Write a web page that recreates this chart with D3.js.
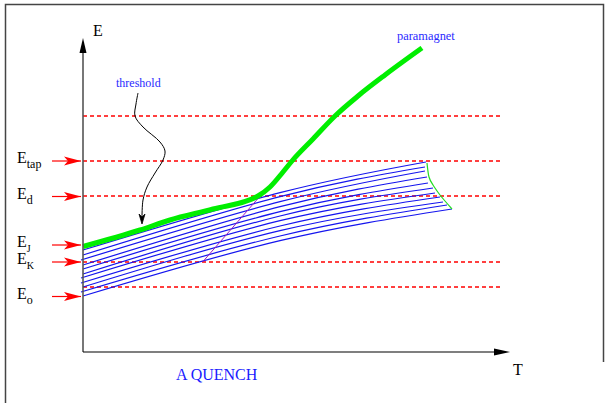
<!DOCTYPE html>
<html>
<head>
<meta charset="utf-8">
<script src="https://cdn.jsdelivr.net/npm/d3@7"></script>
<style>
  body { margin: 0; background: #fff; }
  text { font-family: "Liberation Serif", "Times New Roman", serif; }
</style>
</head>
<body>
<div id="chart"></div>
<script>
// schematic values (T and E in arbitrary units)
var levelNames = ["tap", "d", "J", "K", "o"];
var levelE = [191, 155.5, 107, 90, 55.5];
var dashedE = [236, 191, 155.5, 90.5, 65.3];

var thresholdT = [0, 57, 87, 130, 175, 187, 200, 209, 230, 252, 275, 302, 339];
var thresholdE = [105.5, 122, 132, 143, 156, 165, 180, 191, 213, 236, 256, 277, 304];

// valleys: start, middle, end of each blue line
var valleyStartT = [0, 0, -2, 0, 0, 0, -2, -2, 0, -2, 0];
var valleyStartE = [102, 97, 92, 87, 83, 78, 74, 69, 65, 60, 56];
var valleyMidT = 197;
var valleyMidE = [159.3, 155.3, 150.3, 145.3, 140.3, 136, 131.3, 126, 121.3, 116, 111.3];
var valleyEndT = [343, 342, 342, 344, 345, 350, 352, 357, 360, 364, 369];
var valleyEndE = [190, 185, 181, 175, 169, 164, 159, 155, 150, 147, 143];

var edgeT = [344, 346, 350, 357, 369];
var edgeE = [189, 175, 167, 157, 143];

var quenchT = [120, 178];
var quenchE = [90.5, 157];

var pointerT = [55, 53, 52, 60, 77, 82, 80, 72, 64, 60, 59, 59];
var pointerE = [259, 248, 236, 225, 210, 201, 192, 179, 165, 152, 135, 128];

var width = 605, height = 403;

var svg = d3.select("#chart").append("svg")
    .attr("width", width)
    .attr("height", height);

var x = d3.scaleLinear().domain([0, 427]).range([83, 510]);
var y = d3.scaleLinear().domain([0, 314]).range([352, 38]);

var defs = svg.append("defs");
defs.append("marker")
    .attr("id", "redhead")
    .attr("viewBox", "-18 -5 19 10")
    .attr("refX", 0).attr("refY", 0)
    .attr("markerWidth", 19).attr("markerHeight", 10)
    .attr("markerUnits", "userSpaceOnUse")
    .attr("orient", "auto")
  .append("path")
    .attr("d", "M0,0 L-17,-4.5 L-13,0 L-17,4.5 Z")
    .attr("fill", "#ff0000");

// frame
svg.append("path")
    .attr("d", "M5.5,403 L5.5,4.5 L603.5,4.5 L603.5,362")
    .attr("fill", "none")
    .attr("stroke", "#444")
    .attr("stroke-width", 1.5);

// dashed levels
svg.selectAll(".level")
    .data(dashedE)
  .enter().append("line")
    .attr("class", "level")
    .attr("x1", x(0)).attr("x2", x(420))
    .attr("y1", function(d) { return Math.round(y(d)); })
    .attr("y2", function(d) { return Math.round(y(d)); })
    .attr("stroke", "#ff0000")
    .attr("stroke-width", 1.4)
    .attr("stroke-dasharray", "4,3");

var line = d3.line()
    .x(function(d) { return x(d[0]); })
    .y(function(d) { return y(d[1]); });

// blue valley lines
var valleys = valleyStartE.map(function(e, i) {
    return [[valleyStartT[i], e], [valleyMidT, valleyMidE[i]], [valleyEndT[i], valleyEndE[i]]];
});
svg.selectAll(".valley")
    .data(valleys)
  .enter().append("path")
    .attr("class", "valley")
    .attr("d", line.curve(d3.curveNatural))
    .attr("fill", "none")
    .attr("stroke", "#1515ee")
    .attr("stroke-width", 1.2);

// thin green edge at the right
svg.append("path")
    .attr("d", line.curve(d3.curveNatural)(edgeT.map(function(t, i) { return [t, edgeE[i]]; })))
    .attr("fill", "none")
    .attr("stroke", "#22dd22")
    .attr("stroke-width", 1.2);

// purple quench path
svg.append("path")
    .attr("d", line.curve(d3.curveLinear)(quenchT.map(function(t, i) { return [t, quenchE[i]]; })))
    .attr("fill", "none")
    .attr("stroke", "#a020c0")
    .attr("stroke-width", 1);

// threshold / paramagnet curve
svg.append("path")
    .attr("d", line.curve(d3.curveMonotoneX)(thresholdT.map(function(t, i) { return [t, thresholdE[i]]; })))
    .attr("fill", "none")
    .attr("stroke", "#00ee00")
    .attr("stroke-width", 5)
    .attr("stroke-linecap", "butt");

// pointer from "threshold" label
var pts = pointerT.map(function(t, i) { return [t, pointerE[i]]; });
svg.append("path")
    .attr("d", line.curve(d3.curveCatmullRom)(pts.slice(0, -1)))
    .attr("fill", "none")
    .attr("stroke", "#000")
    .attr("stroke-width", 1);
var tip = pts[pts.length - 1];
var tx = x(tip[0]), ty = y(tip[1]);
svg.append("path")
    .attr("d", "M" + (tx - 3) + "," + (ty - 10) + " L" + tx + "," + ty + " L" + (tx + 3) + "," + (ty - 10) +
        " L" + tx + "," + (ty - 7) + " Z")
    .attr("fill", "#000")
    .attr("stroke", "#000")
    .attr("stroke-width", 0.8);

// axes
svg.append("line")
    .attr("x1", x(0)).attr("x2", x(0))
    .attr("y1", y(0)).attr("y2", y(300))
    .attr("stroke", "#555").attr("stroke-width", 1.6);
svg.append("path")
    .attr("d", "M" + x(0) + "," + y(314) + " L" + (x(0) - 3.5) + "," + y(299) + " L" + (x(0) + 3.5) + "," + y(299) + " Z")
    .attr("fill", "#000");
svg.append("line")
    .attr("x1", x(0)).attr("x2", x(412))
    .attr("y1", y(0)).attr("y2", y(0))
    .attr("stroke", "#000").attr("stroke-width", 1.2);
svg.append("path")
    .attr("d", "M" + x(427) + "," + y(0) + " L" + x(411) + "," + (y(0) - 3.5) + " L" + x(411) + "," + (y(0) + 3.5) + " Z")
    .attr("fill", "#000");

svg.append("text").attr("x", 93).attr("y", 36)
    .attr("font-size", 16).attr("fill", "#000").text("E");
svg.append("text").attr("x", 513).attr("y", 375)
    .attr("font-size", 16).attr("fill", "#000").text("T");

// red level arrows and labels
var arrows = svg.selectAll(".arrow")
    .data(levelE)
  .enter().append("g")
    .attr("class", "arrow");
arrows.append("line")
    .attr("x1", x(-31)).attr("x2", x(-2))
    .attr("y1", function(d) { return y(d); })
    .attr("y2", function(d) { return y(d); })
    .attr("stroke", "#ff0000")
    .attr("stroke-width", 1.2)
    .attr("marker-end", "url(#redhead)");

var labels = arrows.append("text")
    .attr("x", 17)
    .attr("y", function(d) { return y(d) + 2; })
    .attr("font-size", 16)
    .attr("fill", "#000");
labels.append("tspan").text("E");
labels.append("tspan")
    .attr("dy", 5)
    .attr("font-size", function(d, i) { return (levelNames[i] == "J" || levelNames[i] == "K") ? 10 : 12; })
    .text(function(d, i) { return levelNames[i]; });

// annotations
svg.append("text").attr("x", 116).attr("y", 87)
    .attr("font-size", 12).attr("fill", "#2a2aff").text("threshold");
svg.append("text").attr("x", 397).attr("y", 40)
    .attr("font-size", 12.4).attr("fill", "#2a2aff").text("paramagnet");
svg.append("text").attr("x", 176).attr("y", 380)
    .attr("font-size", 16).attr("fill", "#1a1aff").text("A QUENCH");
</script>
</body>
</html>
